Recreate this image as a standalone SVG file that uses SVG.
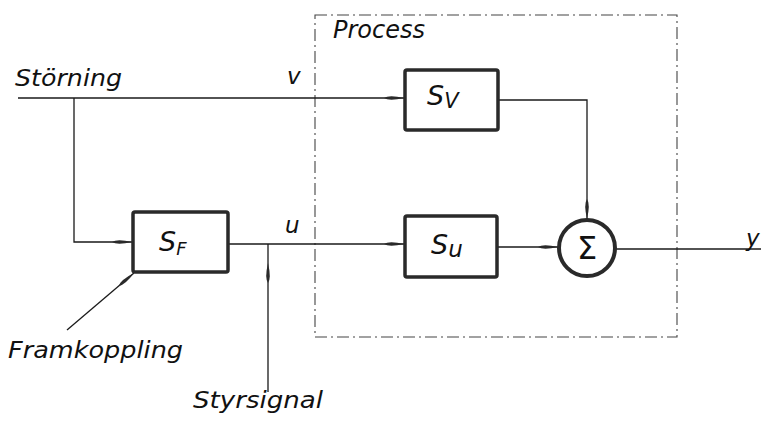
<svg xmlns="http://www.w3.org/2000/svg" width="761" height="426" viewBox="0 0 761 426">
<style>
.bg{fill:#fff}
.lbl{font-family:"DejaVu Sans","Liberation Sans",sans-serif;font-style:italic;font-size:23px;fill:#111}
.blk{fill:#fff;stroke:#2a2a2a;stroke-width:3.5}
.ln{fill:none;stroke:#1a1a1a;stroke-width:1.3}
.proc{fill:none;stroke:#444;stroke-width:1.1;stroke-dasharray:12 4 2 4}
</style>
<defs>
<marker id="arr" markerUnits="userSpaceOnUse" markerWidth="22" markerHeight="10" refX="20" refY="5" orient="auto" viewBox="0 0 22 10">
<path d="M0,5 Q5,1.5 20,5 Q5,8.5 0,5 Z" fill="#2a2a2a"/>
</marker>
</defs>
<rect class="bg" x="0" y="0" width="761" height="426"/>
<g id="process">
<rect class="proc" x="315" y="15" width="362" height="322"/>
<text class="lbl" x="333" y="38" style="font-size:24px">Process</text>
</g>
<g id="connectors">
<path class="ln" d="M18,98 H404" marker-end="url(#arr)"/>
<path class="ln" d="M74,98 V242 H132" marker-end="url(#arr)"/>
<path class="ln" d="M228,244 H404" marker-end="url(#arr)"/>
<path class="ln" d="M268,392 V263" marker-end="url(#arr)"/>
<path class="ln" d="M268,263 V244"/>
<path class="ln" d="M498,100 H587 V219" marker-end="url(#arr)"/>
<path class="ln" d="M497,247 H558" marker-end="url(#arr)"/>
<path class="ln" d="M615,249 H761"/>
<path class="ln" d="M67,330 L134,273" marker-end="url(#arr)"/>
</g>
<g id="labels">
<text class="lbl" x="15" y="86" textLength="107" lengthAdjust="spacingAndGlyphs">Störning</text>
<text class="lbl" x="287" y="84">v</text>
<text class="lbl" x="285" y="233">u</text>
<text class="lbl" x="746" y="246">y</text>
<text class="lbl" x="8" y="358" textLength="175" lengthAdjust="spacingAndGlyphs">Framkoppling</text>
<text class="lbl" x="193" y="408" textLength="130" lengthAdjust="spacingAndGlyphs">Styrsignal</text>
</g>
<g id="SF">
<rect class="blk" x="133" y="212" width="95" height="60" rx="2"/>
<text class="lbl" x="159" y="251" style="font-size:27px">S<tspan style="font-size:18px" dy="4">F</tspan></text>
</g>
<g id="Sv">
<rect class="blk" x="405" y="70" width="93" height="60" rx="2"/>
<text class="lbl" x="427" y="105" style="font-size:27px">S<tspan style="font-size:21px" dy="3">V</tspan></text>
</g>
<g id="Su">
<rect class="blk" x="405" y="216" width="92" height="61" rx="2"/>
<text class="lbl" x="431" y="254" style="font-size:27px">S<tspan style="font-size:23px" dy="3">u</tspan></text>
</g>
<g id="Sigma">
<circle cx="587" cy="248" r="28" fill="#fff" stroke="#2a2a2a" stroke-width="4"/>
<text class="lbl" x="587" y="259" text-anchor="middle" style="font-size:32px;font-style:normal">Σ</text>
</g>
</svg>
